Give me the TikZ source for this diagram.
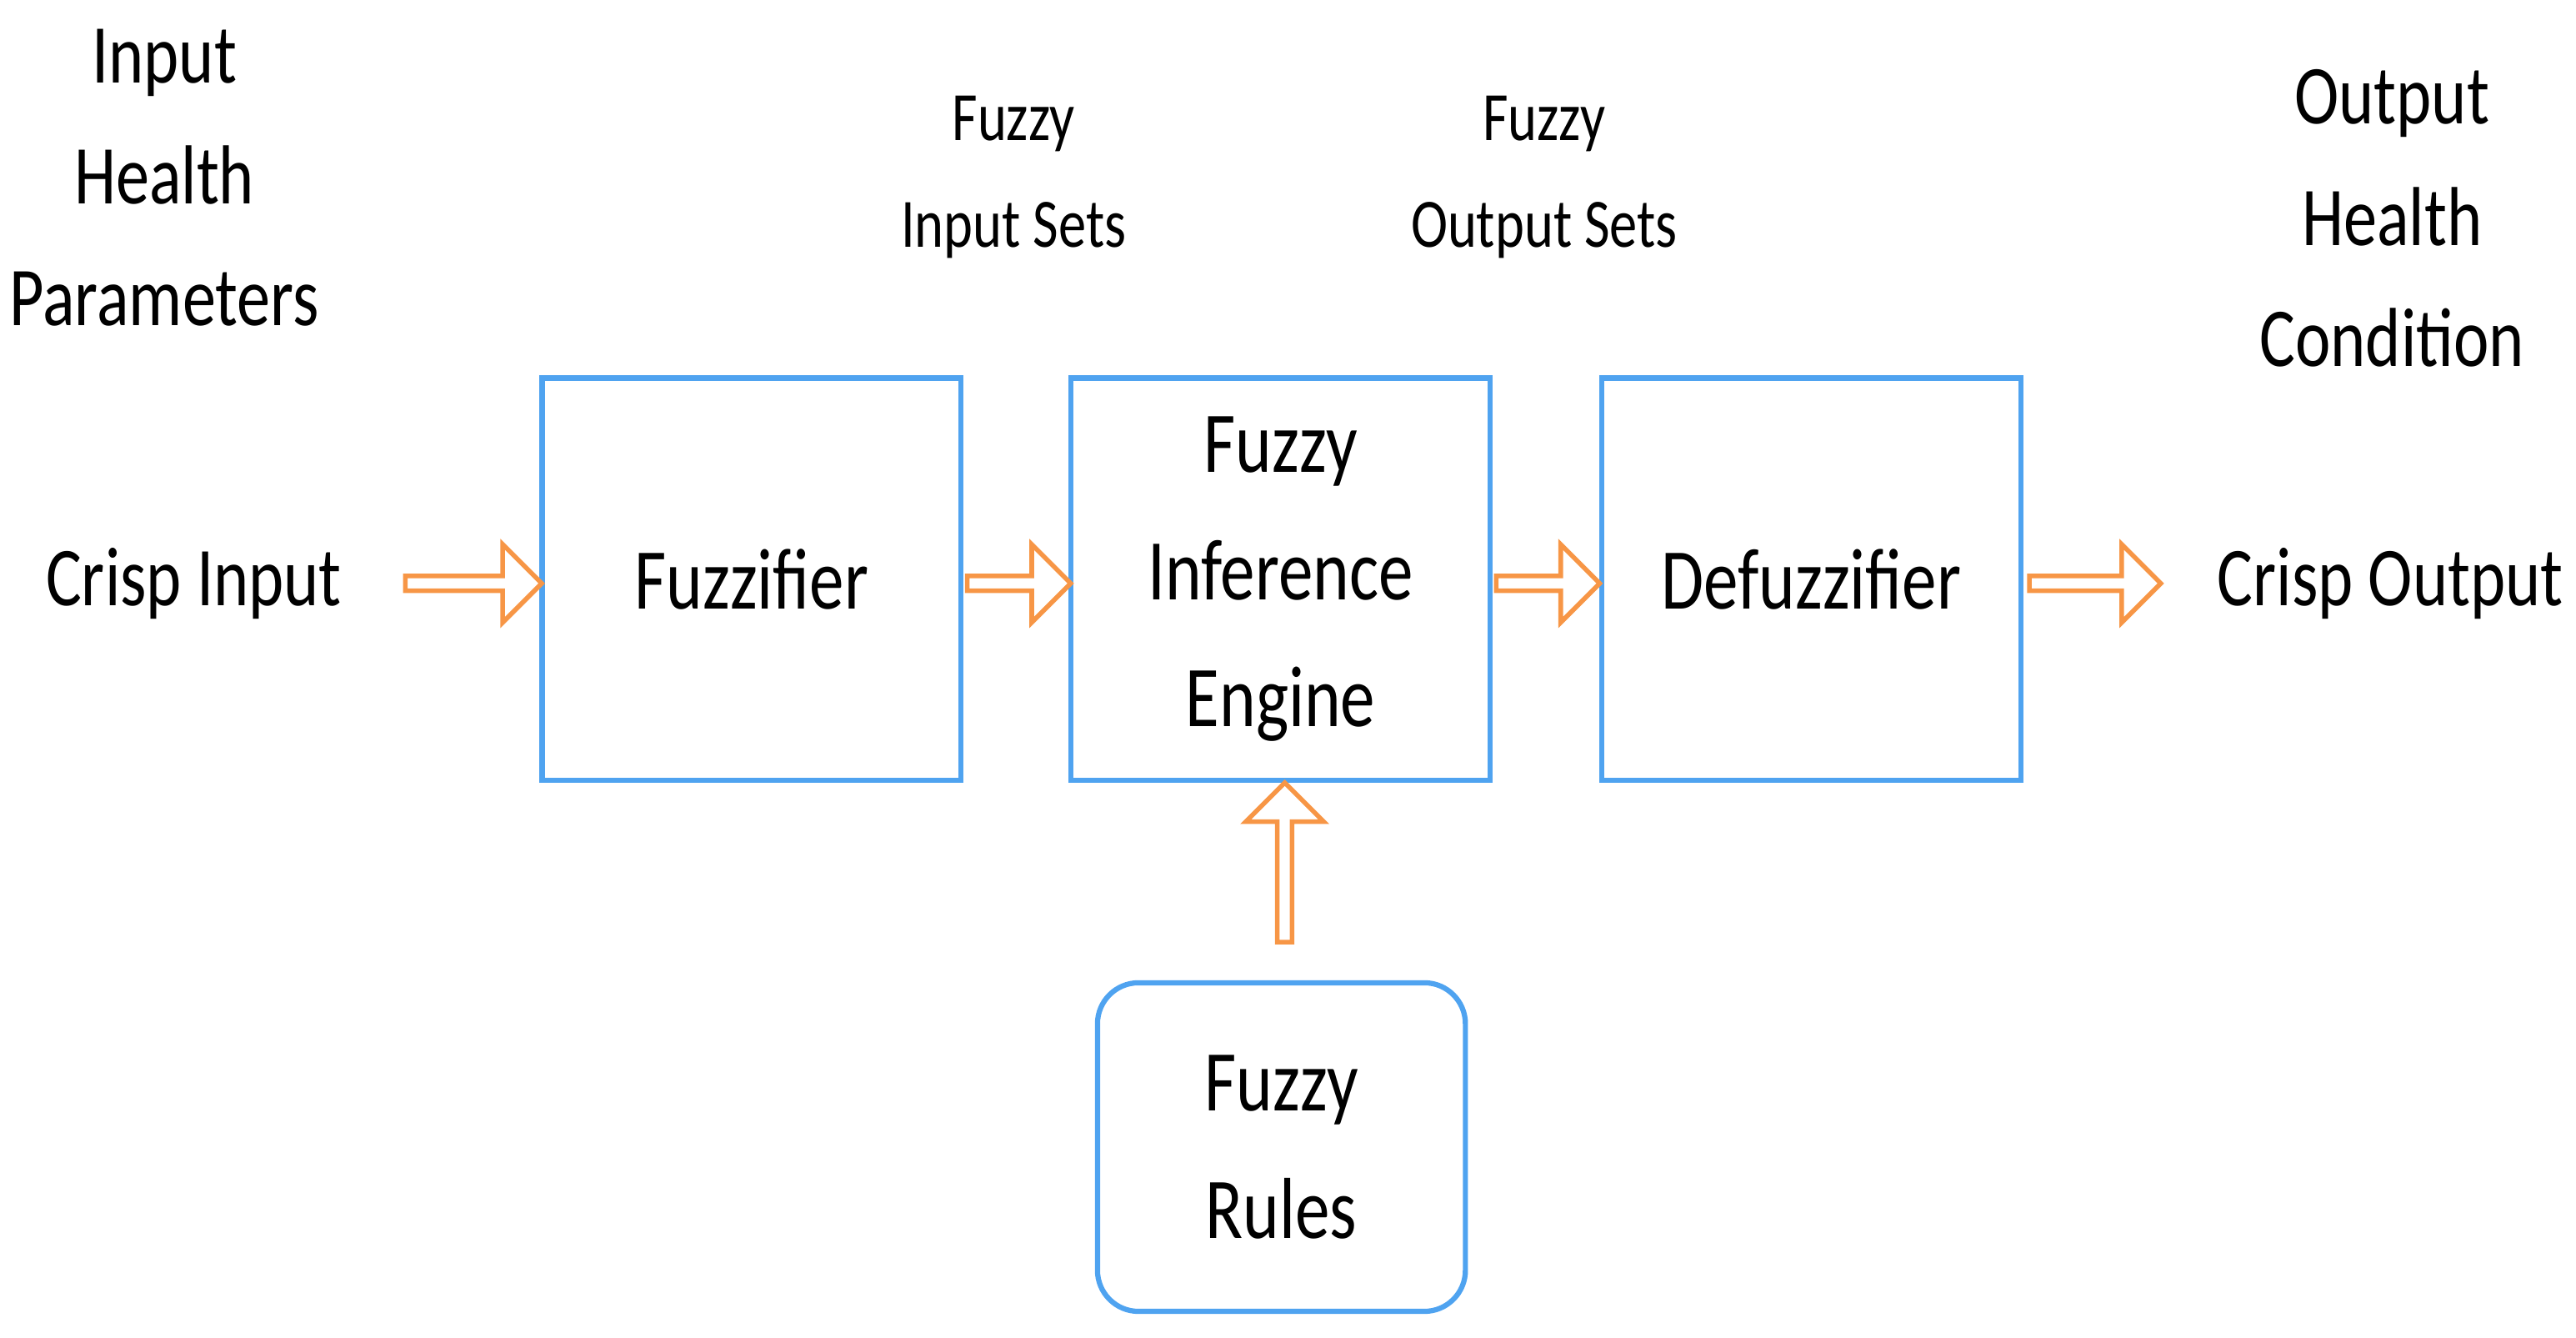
\documentclass[tikz,border=0pt]{standalone}
\usepackage{fontspec}
\setmainfont{Carlito}[FakeStretch=0.8]
\usetikzlibrary{shapes.arrows}
\definecolor{arr}{HTML}{F79646}
\definecolor{bx}{HTML}{4FA3F0}
\begin{document}
\begin{tikzpicture}[x=0.02cm,y=-0.02cm,
  box/.style={draw=bx, line width=1.8pt, minimum width=5.1cm, minimum height=4.9cm, inner sep=0pt, align=center, font=\fontsize{30}{44}\selectfont},
  lbl/.style={align=center, font=\fontsize{29}{42}\selectfont},
  slbl/.style={align=center, font=\fontsize{24}{37}\selectfont},
  barr/.style={single arrow, draw=arr, line width=1.6pt, minimum width=0.95cm, single arrow head extend=0.12cm, inner sep=0pt, minimum height=1.6cm}]
\useasboundingbox (0,0) rectangle (1568,814);
\node[box] (fz) at (457.5,352.5) {Fuzzifier};
\node[box] (fie) at (779.5,352.5) {Fuzzy\\Inference\\Engine};
\node[box] (dfz) at (1102.5,352.5) {Defuzzifier};
\node[box, rounded corners=0.5cm, minimum width=4.48cm, minimum height=4cm] (fr) at (780,698) {Fuzzy\\Rules};
\node[lbl] (ci) at (118,355) {Crisp Input};
\node[lbl] (co) at (1455,355) {Crisp Output};
\node[lbl] (ihp) at (100,108) {Input\\Health\\Parameters};
\node[lbl] (ohc) at (1456,133) {Output\\Health\\Condition};
\node[slbl] (fis) at (617,108) {Fuzzy\\Input Sets};
\node[slbl] (fos) at (940,108) {Fuzzy\\Output Sets};
\node[barr, minimum height=1.66cm] (a1) at (286,355) {};
\node[barr, minimum height=1.26cm] (a2) at (618,355) {};
\node[barr, minimum height=1.26cm] (a3) at (940,355) {};
\node[barr, minimum height=1.6cm] (a4) at (1273,355) {};
\node[barr, minimum height=1.94cm, shape border rotate=90] (a5) at (782,527) {};
\end{tikzpicture}
\end{document}
